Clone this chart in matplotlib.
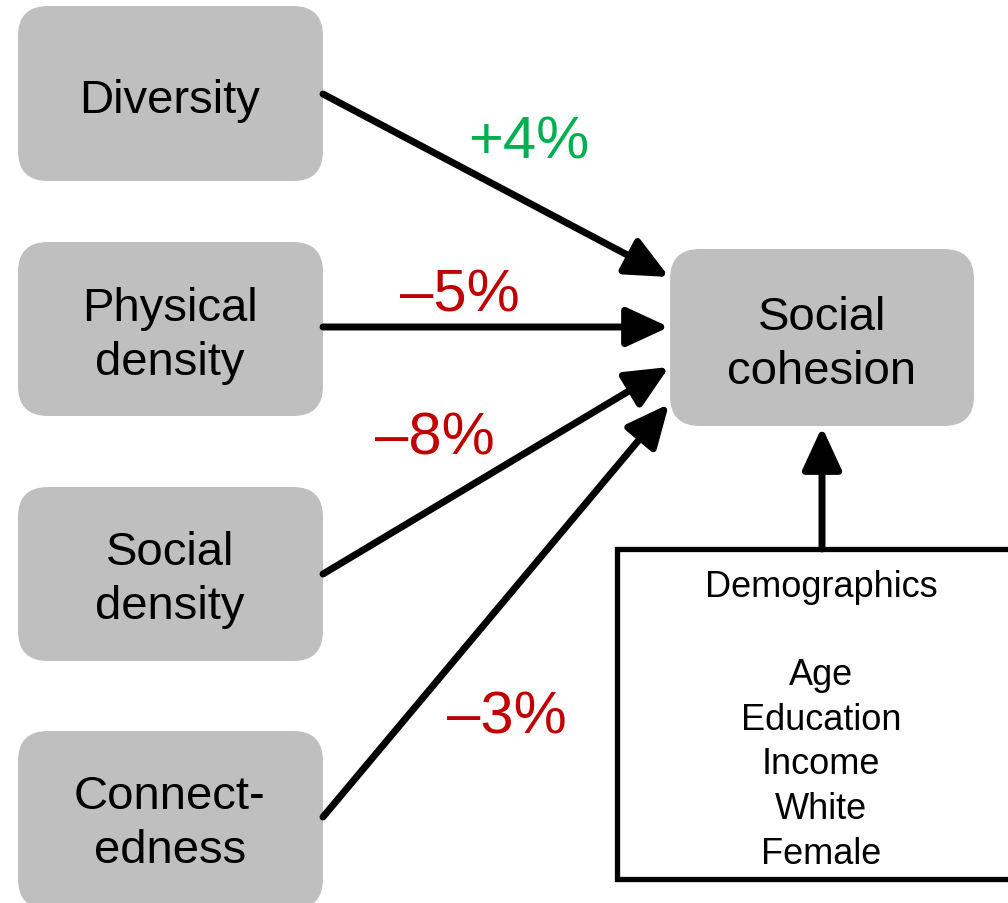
import matplotlib.pyplot as plt
from matplotlib.patches import FancyBboxPatch, FancyArrowPatch, Rectangle

plt.rcParams['font.family'] = ['Liberation Sans', 'DejaVu Sans']

# predictor boxes (left column)
predictors = ["Diversity", "Physical\ndensity", "Social\ndensity", "Connect-\nedness"]
pred_top = [7, 243, 488, 732]
pred_bottom = [182, 417, 662, 910]
pred_text_y = [101, 336, 580, 824]
pred_arrow_y = [95, 328, 575, 818]

# arrow targets on the outcome box
target_y = [278, 328, 368, 405]

# effects
effects = ["+4%", "\u20135%", "\u20138%", "\u20133%"]
effect_colors = ["#00B050", "#C00000", "#C00000", "#C00000"]
effect_pos = [(529, 143), (460, 296), (435, 439), (507, 718)]

outcome = "Social\ncohesion"
controls = ["Age", "Education", "Income", "White", "Female"]

gray = "#BFBFBF"

fig = plt.figure(figsize=(10.08, 9.04), dpi=100)
ax = fig.add_axes([0, 0, 1, 1])
ax.set_xlim(0, 1008)
ax.set_ylim(904, 0)
ax.axis("off")

def rbox(x0, y0, x1, y1):
    p = FancyBboxPatch((x0, y0), x1 - x0, y1 - y0,
                       boxstyle="round,pad=0,rounding_size=30",
                       fc=gray, ec="none")
    ax.add_patch(p)

for name, t, b, ty in zip(predictors, pred_top, pred_bottom, pred_text_y):
    rbox(18, t, 323, b)
    ax.text(170, ty, name, ha="center", va="center", fontsize=34,
            linespacing=1.27)

# outcome box
rbox(670, 250, 974, 427)
ax.text(822, 345, outcome, ha="center", va="center", fontsize=34,
        linespacing=1.27)

# demographics box
ax.add_patch(Rectangle((617, 550), 420, 330, fc="white", ec="black", lw=3.8))
ax.text(821, 588, "Demographics", ha="center", va="center", fontsize=26)
ax.text(821, 765, "\n".join(controls), ha="center", va="center",
        fontsize=26, linespacing=1.36)

def arrow(p0, p1):
    a = FancyArrowPatch(p0, p1, arrowstyle="-|>,head_length=1.3,head_width=0.6",
                        mutation_scale=20, lw=5, color="black",
                        shrinkA=0, shrinkB=0)
    ax.add_patch(a)

for y0, y1 in zip(pred_arrow_y, target_y):
    arrow((323, y0), (669, y1))
arrow((822, 550), (822, 428))

for lab, col, (x, y) in zip(effects, effect_colors, effect_pos):
    ax.text(x, y, lab, ha="center", va="center", fontsize=43, color=col)

fig.savefig("out.png", dpi=100)
